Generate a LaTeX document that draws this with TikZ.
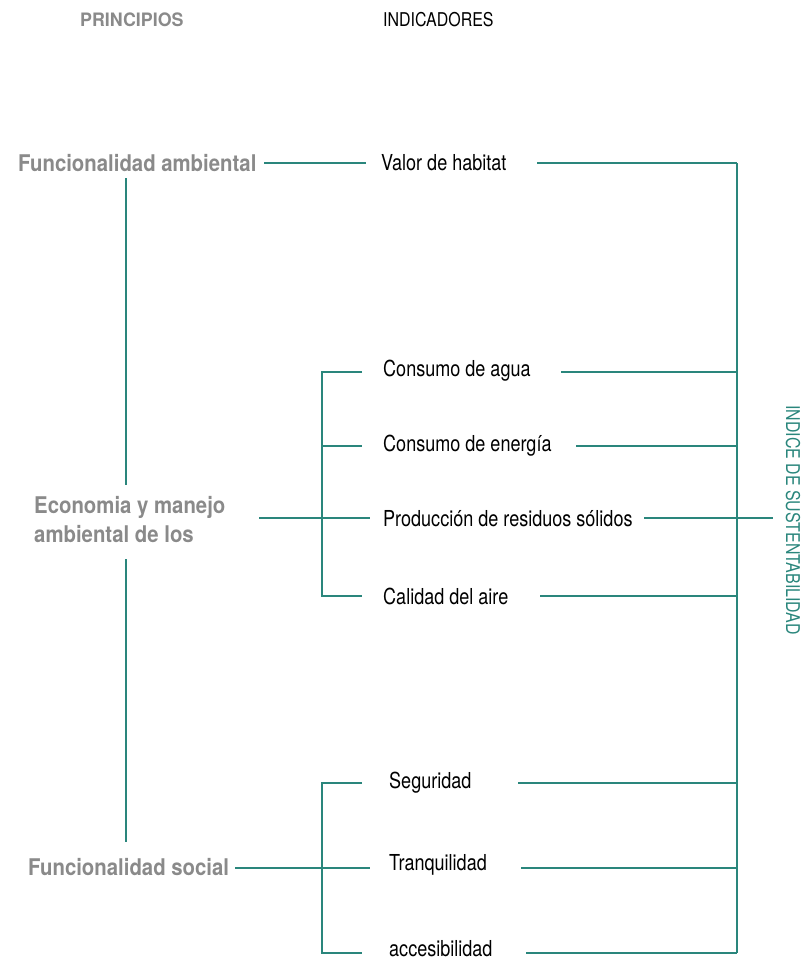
\documentclass[tikz,border=0pt]{standalone}
\usepackage{fontspec}
\newfontfamily\regf[FakeStretch=0.82]{TeX Gyre Heros}
\newfontfamily\regn[FakeStretch=0.84]{TeX Gyre Heros}
\newfontfamily\boldf[FakeStretch=0.885]{TeX Gyre Heros}
\newfontfamily\boldh[FakeStretch=0.965]{TeX Gyre Heros}
\definecolor{teal1}{RGB}{42,134,124}
\definecolor{gray1}{RGB}{138,138,138}
\begin{document}
\begin{tikzpicture}[x=1pt,y=-1pt,
  conn/.style={draw=teal1,line width=2.3pt},
  prin/.style={inner sep=0pt,anchor=west,text=gray1,font=\boldf\bfseries\fontsize{23}{29}\selectfont,align=left},
  ind/.style={inner sep=0pt,anchor=west,text=black,font=\regf\fontsize{22}{26}\selectfont},
  head/.style={inner sep=0pt,anchor=west,font=\regn\fontsize{19}{23}\selectfont}]
\useasboundingbox (0,0) rectangle (807,961);
% headers
\node[head,text=gray1,font=\boldh\bfseries\fontsize{18.5}{22}\selectfont] (hp) at (80,20) {PRINCIPIOS};
\node[head] (hi) at (383,20) {INDICADORES};
% principles
\node[prin] (fa) at (18,163) {Funcionalidad ambiental};
\node[prin] (em) at (34,520) {Economia y manejo\\ambiental de los};
\node[prin] (fs) at (28,867) {Funcionalidad social};
% indicators
\node[ind] (vh) at (381,163) {Valor de habitat};
\node[ind] (ca) at (383,371) {Consumo de agua};
\node[ind] (ce) at (383,446) {Consumo de energía};
\node[ind] (pr) at (383,519) {Producción de residuos sólidos};
\node[ind] (cd) at (383,596) {Calidad del aire};
\node[ind] (se) at (389,783) {Seguridad};
\node[ind] (tr) at (389,865) {Tranquilidad};
\node[ind] (ac) at (389,949) {accesibilidad};
% index
\node[inner sep=0pt,rotate=-90,text=teal1,font=\regn\fontsize{19}{23}\selectfont] (is) at (793,520) {INDICE DE SUSTENTABILIDAD};
% hub coordinates
\coordinate (rt) at (737,163);
\coordinate (rb) at (737,953);
\coordinate (bt1) at (322,372);
\coordinate (bb1) at (322,596);
\coordinate (bt2) at (322,783);
\coordinate (bb2) at (322,953);
% left vertical line
\draw[conn] (126,178) -- (126,485);
\draw[conn] (126,559) -- (126,842);
% principle to indicator lines
\draw[conn] (264,163) -- (366,163);
\draw[conn] (259,518) -- (370,518);
\draw[conn] (235,868) -- (370,868);
% brackets
\draw[conn] (362,372) -- (bt1) -- (bb1) -- (362,596);
\draw[conn] (322,446) -- (362,446);
\draw[conn] (362,783) -- (bt2) -- (bb2) -- (362,953);
% right side
\draw[conn] (rt) -- (rb);
\draw[conn] (537,163) -- (rt);
\draw[conn] (561,372) -- (737,372);
\draw[conn] (576,446) -- (737,446);
\draw[conn] (644,518) -- (773,518);
\draw[conn] (540,596) -- (737,596);
\draw[conn] (518,783) -- (737,783);
\draw[conn] (521,868) -- (737,868);
\draw[conn] (526,953) -- (rb);
\end{tikzpicture}
\end{document}
